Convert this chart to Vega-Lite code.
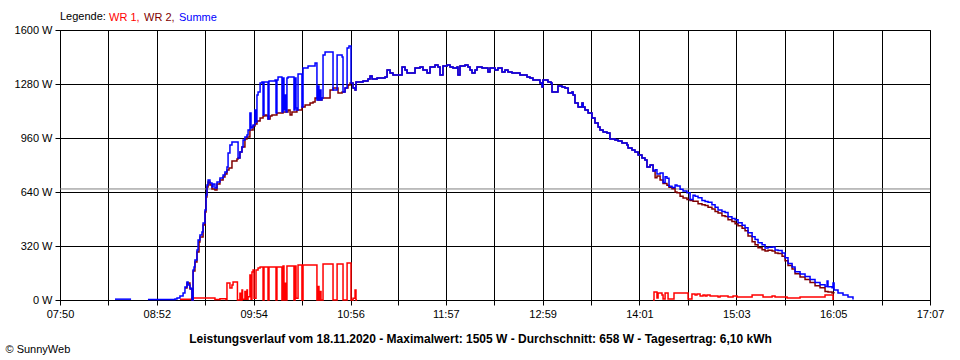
{
  "$schema": "https://vega.github.io/schema/vega-lite/v6.json",
  "autosize": {"type": "none"},
  "width": 870,
  "height": 270,
  "padding": {"left": 60, "top": 30, "right": 30, "bottom": 60},
  "background": "white",
  "config": {
    "view": {"stroke": "black", "strokeWidth": 1},
    "axis": {"domainColor": "black", "tickColor": "black", "gridColor": "black", "gridOpacity": 1, "gridWidth": 1, "labelFont": "Liberation Sans", "labelFontSize": 11, "labelColor": "black", "tickSize": 5, "domainWidth": 1, "tickWidth": 1, "titleFont": "Liberation Sans", "titleColor": "black"}
  },
  "datasets": {
    "d": [
      {"s":"Summe","t":505.2,"w":5,"g":1},{"s":"Summe","t":515.5,"w":5,"g":1},
      {"s":"Summe","t":526.3,"w":3,"g":2},{"s":"Summe","t":543.6,"w":6,"g":2},{"s":"Summe","t":544.9,"w":12,"g":2},{"s":"Summe","t":546.8,"w":24,"g":2},{"s":"Summe","t":548.8,"w":41,"g":2},{"s":"Summe","t":550.0,"w":77,"g":2},{"s":"Summe","t":551.3,"w":107,"g":2},{"s":"Summe","t":552.0,"w":89,"g":2},{"s":"Summe","t":553.2,"w":71,"g":2},{"s":"Summe","t":553.9,"w":65,"g":2},{"s":"Summe","t":554.5,"w":0,"g":2},{"s":"Summe","t":555.2,"w":178,"g":2},{"s":"Summe","t":555.8,"w":196,"g":2},{"s":"Summe","t":556.4,"w":237,"g":2},{"s":"Summe","t":557.7,"w":296,"g":2},{"s":"Summe","t":558.4,"w":356,"g":2},{"s":"Summe","t":559.6,"w":385,"g":2},{"s":"Summe","t":560.9,"w":403,"g":2},{"s":"Summe","t":561.6,"w":456,"g":2},{"s":"Summe","t":562.8,"w":533,"g":2},{"s":"Summe","t":563.5,"w":622,"g":2},{"s":"Summe","t":564.1,"w":681,"g":2},{"s":"Summe","t":564.8,"w":711,"g":2},{"s":"Summe","t":566.0,"w":693,"g":2},{"s":"Summe","t":567.3,"w":670,"g":2},{"s":"Summe","t":568.0,"w":687,"g":2},{"s":"Summe","t":569.2,"w":664,"g":2},{"s":"Summe","t":570.5,"w":699,"g":2},{"s":"Summe","t":572.4,"w":723,"g":2},{"s":"Summe","t":574.4,"w":741,"g":2},{"s":"Summe","t":575.6,"w":759,"g":2},{"s":"Summe","t":576.9,"w":788,"g":2},{"s":"Summe","t":577.6,"w":871,"g":2},{"s":"Summe","t":578.8,"w":919,"g":2},{"s":"Summe","t":580.1,"w":936,"g":2},{"s":"Summe","t":583.3,"w":936,"g":2},{"s":"Summe","t":584.0,"w":841,"g":2},{"s":"Summe","t":585.2,"w":877,"g":2},{"s":"Summe","t":586.5,"w":907,"g":2},{"s":"Summe","t":587.2,"w":948,"g":2},{"s":"Summe","t":588.4,"w":966,"g":2},{"s":"Summe","t":589.7,"w":978,"g":2},{"s":"Summe","t":590.4,"w":1007,"g":2},{"s":"Summe","t":591.6,"w":1108,"g":2},{"s":"Summe","t":592.3,"w":1019,"g":2},{"s":"Summe","t":592.9,"w":1025,"g":2},{"s":"Summe","t":593.6,"w":1037,"g":2},{"s":"Summe","t":594.8,"w":1126,"g":2},{"s":"Summe","t":595.5,"w":1055,"g":2},{"s":"Summe","t":596.1,"w":1215,"g":2},{"s":"Summe","t":596.8,"w":1233,"g":2},{"s":"Summe","t":598.1,"w":1286,"g":2},{"s":"Summe","t":599.3,"w":1292,"g":2},{"s":"Summe","t":600.0,"w":1096,"g":2},{"s":"Summe","t":600.6,"w":1292,"g":2},{"s":"Summe","t":603.2,"w":1073,"g":2},{"s":"Summe","t":603.8,"w":1298,"g":2},{"s":"Summe","t":607.7,"w":1304,"g":2},{"s":"Summe","t":608.3,"w":1108,"g":2},{"s":"Summe","t":608.9,"w":1304,"g":2},{"s":"Summe","t":609.6,"w":1321,"g":2},{"s":"Summe","t":612.1,"w":1114,"g":2},{"s":"Summe","t":612.8,"w":1316,"g":2},{"s":"Summe","t":613.4,"w":1126,"g":2},{"s":"Summe","t":614.1,"w":1215,"g":2},{"s":"Summe","t":614.7,"w":1114,"g":2},{"s":"Summe","t":615.3,"w":1316,"g":2},{"s":"Summe","t":616.0,"w":1321,"g":2},{"s":"Summe","t":619.8,"w":1126,"g":2},{"s":"Summe","t":620.5,"w":1316,"g":2},{"s":"Summe","t":621.1,"w":1138,"g":2},{"s":"Summe","t":621.7,"w":1126,"g":2},{"s":"Summe","t":622.4,"w":1339,"g":2},{"s":"Summe","t":624.9,"w":1144,"g":2},{"s":"Summe","t":625.6,"w":1375,"g":2},{"s":"Summe","t":628.8,"w":1386,"g":2},{"s":"Summe","t":633.3,"w":1404,"g":2},{"s":"Summe","t":634.5,"w":1185,"g":2},{"s":"Summe","t":635.2,"w":1268,"g":2},{"s":"Summe","t":635.8,"w":1185,"g":2},{"s":"Summe","t":636.5,"w":1244,"g":2},{"s":"Summe","t":637.1,"w":1185,"g":2},{"s":"Summe","t":637.7,"w":1197,"g":2},{"s":"Summe","t":638.4,"w":1452,"g":2},{"s":"Summe","t":639.7,"w":1470,"g":2},{"s":"Summe","t":644.8,"w":1244,"g":2},{"s":"Summe","t":647.4,"w":1452,"g":2},{"s":"Summe","t":650.6,"w":1440,"g":2},{"s":"Summe","t":651.2,"w":1233,"g":2},{"s":"Summe","t":652.5,"w":1256,"g":2},{"s":"Summe","t":653.8,"w":1493,"g":2},{"s":"Summe","t":655.0,"w":1505,"g":2},{"s":"Summe","t":656.3,"w":1286,"g":2},
      {"s":"Summe","t":657.6,"w":1256,"g":2},{"s":"Summe","t":658.9,"w":1244,"g":2},{"s":"Summe","t":659.5,"w":1292,"g":2},{"s":"Summe","t":664.0,"w":1298,"g":2},{"s":"Summe","t":667.2,"w":1310,"g":2},{"s":"Summe","t":668.5,"w":1327,"g":2},{"s":"Summe","t":669.8,"w":1310,"g":2},{"s":"Summe","t":673.0,"w":1316,"g":2},{"s":"Summe","t":678.1,"w":1321,"g":2},{"s":"Summe","t":679.4,"w":1363,"g":2},{"s":"Summe","t":681.3,"w":1345,"g":2},{"s":"Summe","t":683.2,"w":1333,"g":2},{"s":"Summe","t":689.0,"w":1381,"g":2},{"s":"Summe","t":690.9,"w":1363,"g":2},{"s":"Summe","t":692.2,"w":1345,"g":2},{"s":"Summe","t":697.3,"w":1375,"g":2},{"s":"Summe","t":700.5,"w":1381,"g":2},{"s":"Summe","t":702.4,"w":1363,"g":2},{"s":"Summe","t":705.0,"w":1345,"g":2},{"s":"Summe","t":706.9,"w":1381,"g":2},{"s":"Summe","t":710.1,"w":1392,"g":2},{"s":"Summe","t":712.0,"w":1381,"g":2},{"s":"Summe","t":713.3,"w":1333,"g":2},{"s":"Summe","t":715.2,"w":1386,"g":2},{"s":"Summe","t":717.8,"w":1392,"g":2},{"s":"Summe","t":719.7,"w":1381,"g":2},{"s":"Summe","t":721.6,"w":1375,"g":2},{"s":"Summe","t":724.2,"w":1381,"g":2},{"s":"Summe","t":724.8,"w":1333,"g":2},{"s":"Summe","t":726.1,"w":1386,"g":2},{"s":"Summe","t":729.3,"w":1392,"g":2},{"s":"Summe","t":731.2,"w":1381,"g":2},{"s":"Summe","t":732.5,"w":1363,"g":2},{"s":"Summe","t":733.8,"w":1345,"g":2},{"s":"Summe","t":735.7,"w":1363,"g":2},{"s":"Summe","t":737.0,"w":1381,"g":2},{"s":"Summe","t":740.2,"w":1375,"g":2},{"s":"Summe","t":744.0,"w":1351,"g":2},{"s":"Summe","t":745.3,"w":1375,"g":2},{"s":"Summe","t":748.5,"w":1363,"g":2},{"s":"Summe","t":750.4,"w":1375,"g":2},{"s":"Summe","t":753.0,"w":1351,"g":2},{"s":"Summe","t":754.9,"w":1363,"g":2},{"s":"Summe","t":756.8,"w":1351,"g":2},{"s":"Summe","t":759.4,"w":1345,"g":2},{"s":"Summe","t":764.5,"w":1333,"g":2},{"s":"Summe","t":769.0,"w":1321,"g":2},{"s":"Summe","t":770.9,"w":1316,"g":2},{"s":"Summe","t":772.8,"w":1304,"g":2},{"s":"Summe","t":777.3,"w":1286,"g":2},{"s":"Summe","t":778.6,"w":1262,"g":2},{"s":"Summe","t":779.2,"w":1304,"g":2},{"s":"Summe","t":782.4,"w":1292,"g":2},{"s":"Summe","t":784.4,"w":1286,"g":2},{"s":"Summe","t":785.0,"w":1233,"g":2},{"s":"Summe","t":788.8,"w":1268,"g":2},{"s":"Summe","t":791.4,"w":1262,"g":2},{"s":"Summe","t":793.3,"w":1256,"g":2},{"s":"Summe","t":795.3,"w":1227,"g":2},{"s":"Summe","t":797.8,"w":1233,"g":2},{"s":"Summe","t":798.5,"w":1215,"g":2},{"s":"Summe","t":799.7,"w":1167,"g":2},{"s":"Summe","t":801.7,"w":1144,"g":2},{"s":"Summe","t":804.2,"w":1167,"g":2},{"s":"Summe","t":804.9,"w":1144,"g":2},{"s":"Summe","t":806.1,"w":1126,"g":2},{"s":"Summe","t":808.1,"w":1108,"g":2},{"s":"Summe","t":810.6,"w":1079,"g":2},{"s":"Summe","t":812.5,"w":1049,"g":2},{"s":"Summe","t":814.5,"w":1025,"g":2},{"s":"Summe","t":815.7,"w":1007,"g":2},{"s":"Summe","t":817.7,"w":996,"g":2},{"s":"Summe","t":820.2,"w":990,"g":2},{"s":"Summe","t":822.1,"w":954,"g":2},{"s":"Summe","t":825.3,"w":948,"g":2},{"s":"Summe","t":827.3,"w":942,"g":2},{"s":"Summe","t":829.8,"w":930,"g":2},{"s":"Summe","t":833.0,"w":919,"g":2},{"s":"Summe","t":833.7,"w":901,"g":2},{"s":"Summe","t":836.2,"w":889,"g":2},{"s":"Summe","t":838.1,"w":877,"g":2},{"s":"Summe","t":840.1,"w":859,"g":2},{"s":"Summe","t":842.6,"w":841,"g":2},{"s":"Summe","t":844.5,"w":830,"g":2},{"s":"Summe","t":845.8,"w":788,"g":2},{"s":"Summe","t":847.8,"w":800,"g":2},
      {"s":"Summe","t":849.7,"w":765,"g":2},{"s":"Summe","t":851.0,"w":772,"g":2},{"s":"Summe","t":852.2,"w":747,"g":2},{"s":"Summe","t":854.2,"w":752,"g":2},{"s":"Summe","t":856.1,"w":696,"g":2},{"s":"Summe","t":857.4,"w":731,"g":2},{"s":"Summe","t":858.6,"w":721,"g":2},{"s":"Summe","t":859.9,"w":674,"g":2},{"s":"Summe","t":861.8,"w":666,"g":2},{"s":"Summe","t":863.8,"w":681,"g":2},{"s":"Summe","t":865.0,"w":676,"g":2},{"s":"Summe","t":867.0,"w":656,"g":2},{"s":"Summe","t":868.9,"w":646,"g":2},{"s":"Summe","t":871.4,"w":636,"g":2},{"s":"Summe","t":873.4,"w":596,"g":2},{"s":"Summe","t":875.3,"w":621,"g":2},{"s":"Summe","t":876.6,"w":615,"g":2},{"s":"Summe","t":878.5,"w":606,"g":2},{"s":"Summe","t":881.0,"w":589,"g":2},{"s":"Summe","t":883.0,"w":584,"g":2},{"s":"Summe","t":884.9,"w":580,"g":2},{"s":"Summe","t":887.4,"w":564,"g":2},{"s":"Summe","t":889.4,"w":549,"g":2},{"s":"Summe","t":891.3,"w":533,"g":2},{"s":"Summe","t":893.8,"w":524,"g":2},{"s":"Summe","t":895.8,"w":519,"g":2},{"s":"Summe","t":897.7,"w":493,"g":2},{"s":"Summe","t":900.2,"w":483,"g":2},{"s":"Summe","t":902.2,"w":476,"g":2},{"s":"Summe","t":904.1,"w":458,"g":2},{"s":"Summe","t":906.7,"w":443,"g":2},{"s":"Summe","t":908.6,"w":428,"g":2},{"s":"Summe","t":910.5,"w":398,"g":2},{"s":"Summe","t":913.1,"w":375,"g":2},{"s":"Summe","t":915.0,"w":358,"g":2},{"s":"Summe","t":916.9,"w":340,"g":2},{"s":"Summe","t":919.5,"w":328,"g":2},{"s":"Summe","t":921.4,"w":308,"g":2},{"s":"Summe","t":923.3,"w":313,"g":2},{"s":"Summe","t":925.9,"w":314,"g":2},{"s":"Summe","t":927.8,"w":296,"g":2},{"s":"Summe","t":929.7,"w":294,"g":2},{"s":"Summe","t":932.3,"w":278,"g":2},{"s":"Summe","t":934.2,"w":250,"g":2},{"s":"Summe","t":936.1,"w":217,"g":2},{"s":"Summe","t":938.7,"w":196,"g":2},{"s":"Summe","t":940.6,"w":167,"g":2},{"s":"Summe","t":943.8,"w":154,"g":2},{"s":"Summe","t":947.0,"w":140,"g":2},{"s":"Summe","t":950.2,"w":121,"g":2},{"s":"Summe","t":953.4,"w":103,"g":2},{"s":"Summe","t":956.6,"w":90,"g":2},{"s":"Summe","t":959.8,"w":80,"g":2},{"s":"Summe","t":961.1,"w":113,"g":2},{"s":"Summe","t":961.7,"w":78,"g":2},{"s":"Summe","t":964.3,"w":72,"g":2},{"s":"Summe","t":964.9,"w":101,"g":2},{"s":"Summe","t":965.6,"w":59,"g":2},{"s":"Summe","t":968.1,"w":41,"g":2},{"s":"Summe","t":971.3,"w":30,"g":2},{"s":"Summe","t":974.5,"w":18,"g":2},{"s":"Summe","t":977.7,"w":3,"g":2},

      {"s":"WR 2","t":550.0,"w":71,"g":1},{"s":"WR 2","t":551.3,"w":101,"g":1},{"s":"WR 2","t":553.2,"w":65,"g":1},{"s":"WR 2","t":554.5,"w":0,"g":1},{"s":"WR 2","t":555.2,"w":172,"g":1},{"s":"WR 2","t":556.4,"w":225,"g":1},{"s":"WR 2","t":557.7,"w":284,"g":1},{"s":"WR 2","t":559.0,"w":344,"g":1},{"s":"WR 2","t":559.6,"w":373,"g":1},{"s":"WR 2","t":561.6,"w":444,"g":1},{"s":"WR 2","t":562.8,"w":521,"g":1},{"s":"WR 2","t":563.5,"w":610,"g":1},{"s":"WR 2","t":564.1,"w":670,"g":1},{"s":"WR 2","t":564.8,"w":699,"g":1},{"s":"WR 2","t":566.0,"w":681,"g":1},{"s":"WR 2","t":567.3,"w":658,"g":1},{"s":"WR 2","t":569.2,"w":652,"g":1},{"s":"WR 2","t":570.5,"w":687,"g":1},{"s":"WR 2","t":572.4,"w":711,"g":1},{"s":"WR 2","t":574.4,"w":729,"g":1},{"s":"WR 2","t":575.6,"w":747,"g":1},{"s":"WR 2","t":576.9,"w":770,"g":1},{"s":"WR 2","t":578.2,"w":782,"g":1},{"s":"WR 2","t":580.1,"w":824,"g":1},{"s":"WR 2","t":583.3,"w":836,"g":1},{"s":"WR 2","t":584.0,"w":841,"g":1},{"s":"WR 2","t":585.2,"w":877,"g":1},{"s":"WR 2","t":586.5,"w":907,"g":1},{"s":"WR 2","t":588.4,"w":954,"g":1},{"s":"WR 2","t":589.7,"w":966,"g":1},{"s":"WR 2","t":591.6,"w":1007,"g":1},{"s":"WR 2","t":593.6,"w":1031,"g":1},{"s":"WR 2","t":594.8,"w":1043,"g":1},{"s":"WR 2","t":596.1,"w":1061,"g":1},{"s":"WR 2","t":598.1,"w":1079,"g":1},{"s":"WR 2","t":600.0,"w":1090,"g":1},{"s":"WR 2","t":601.3,"w":1096,"g":1},{"s":"WR 2","t":602.5,"w":1090,"g":1},{"s":"WR 2","t":603.2,"w":1073,"g":1},{"s":"WR 2","t":604.5,"w":1090,"g":1},{"s":"WR 2","t":605.7,"w":1096,"g":1},{"s":"WR 2","t":608.9,"w":1108,"g":1},{"s":"WR 2","t":612.8,"w":1114,"g":1},{"s":"WR 2","t":616.0,"w":1126,"g":1},{"s":"WR 2","t":617.3,"w":1096,"g":1},{"s":"WR 2","t":618.5,"w":1114,"g":1},{"s":"WR 2","t":621.7,"w":1126,"g":1},{"s":"WR 2","t":624.9,"w":1144,"g":1},{"s":"WR 2","t":626.9,"w":1156,"g":1},{"s":"WR 2","t":630.1,"w":1167,"g":1},{"s":"WR 2","t":632.0,"w":1173,"g":1},{"s":"WR 2","t":633.3,"w":1197,"g":1},{"s":"WR 2","t":635.2,"w":1185,"g":1},{"s":"WR 2","t":637.7,"w":1197,"g":1},{"s":"WR 2","t":641.0,"w":1197,"g":1},{"s":"WR 2","t":642.9,"w":1244,"g":1},{"s":"WR 2","t":644.8,"w":1256,"g":1},{"s":"WR 2","t":648.0,"w":1227,"g":1},{"s":"WR 2","t":650.6,"w":1233,"g":1},{"s":"WR 2","t":652.5,"w":1256,"g":1},{"s":"WR 2","t":654.4,"w":1274,"g":1},{"s":"WR 2","t":655.7,"w":1286,"g":1},{"s":"WR 2","t":656.3,"w":1286,"g":1},
      {"s":"WR 2","t":657.6,"w":1256,"g":1},{"s":"WR 2","t":658.9,"w":1244,"g":1},{"s":"WR 2","t":659.5,"w":1292,"g":1},{"s":"WR 2","t":664.0,"w":1298,"g":1},{"s":"WR 2","t":667.2,"w":1310,"g":1},{"s":"WR 2","t":668.5,"w":1327,"g":1},{"s":"WR 2","t":669.8,"w":1310,"g":1},{"s":"WR 2","t":673.0,"w":1316,"g":1},{"s":"WR 2","t":678.1,"w":1321,"g":1},{"s":"WR 2","t":679.4,"w":1363,"g":1},{"s":"WR 2","t":681.3,"w":1345,"g":1},{"s":"WR 2","t":683.2,"w":1333,"g":1},{"s":"WR 2","t":689.0,"w":1381,"g":1},{"s":"WR 2","t":690.9,"w":1363,"g":1},{"s":"WR 2","t":692.2,"w":1345,"g":1},{"s":"WR 2","t":697.3,"w":1375,"g":1},{"s":"WR 2","t":700.5,"w":1381,"g":1},{"s":"WR 2","t":702.4,"w":1363,"g":1},{"s":"WR 2","t":705.0,"w":1345,"g":1},{"s":"WR 2","t":706.9,"w":1381,"g":1},{"s":"WR 2","t":710.1,"w":1392,"g":1},{"s":"WR 2","t":712.0,"w":1381,"g":1},{"s":"WR 2","t":713.3,"w":1333,"g":1},{"s":"WR 2","t":715.2,"w":1386,"g":1},{"s":"WR 2","t":717.8,"w":1392,"g":1},{"s":"WR 2","t":719.7,"w":1381,"g":1},{"s":"WR 2","t":721.6,"w":1375,"g":1},{"s":"WR 2","t":724.2,"w":1381,"g":1},{"s":"WR 2","t":724.8,"w":1333,"g":1},{"s":"WR 2","t":726.1,"w":1386,"g":1},{"s":"WR 2","t":729.3,"w":1392,"g":1},{"s":"WR 2","t":731.2,"w":1381,"g":1},{"s":"WR 2","t":732.5,"w":1363,"g":1},{"s":"WR 2","t":733.8,"w":1345,"g":1},{"s":"WR 2","t":735.7,"w":1363,"g":1},{"s":"WR 2","t":737.0,"w":1381,"g":1},{"s":"WR 2","t":740.2,"w":1375,"g":1},{"s":"WR 2","t":744.0,"w":1351,"g":1},{"s":"WR 2","t":745.3,"w":1375,"g":1},{"s":"WR 2","t":748.5,"w":1363,"g":1},{"s":"WR 2","t":750.4,"w":1375,"g":1},{"s":"WR 2","t":753.0,"w":1351,"g":1},{"s":"WR 2","t":754.9,"w":1363,"g":1},{"s":"WR 2","t":756.8,"w":1351,"g":1},{"s":"WR 2","t":759.4,"w":1345,"g":1},{"s":"WR 2","t":764.5,"w":1333,"g":1},{"s":"WR 2","t":769.0,"w":1321,"g":1},{"s":"WR 2","t":770.9,"w":1316,"g":1},{"s":"WR 2","t":772.8,"w":1304,"g":1},{"s":"WR 2","t":777.3,"w":1286,"g":1},{"s":"WR 2","t":778.6,"w":1262,"g":1},{"s":"WR 2","t":779.2,"w":1304,"g":1},{"s":"WR 2","t":782.4,"w":1292,"g":1},{"s":"WR 2","t":784.4,"w":1286,"g":1},{"s":"WR 2","t":785.0,"w":1233,"g":1},{"s":"WR 2","t":788.8,"w":1268,"g":1},{"s":"WR 2","t":791.4,"w":1262,"g":1},{"s":"WR 2","t":793.3,"w":1256,"g":1},{"s":"WR 2","t":795.3,"w":1227,"g":1},{"s":"WR 2","t":797.8,"w":1233,"g":1},{"s":"WR 2","t":798.5,"w":1215,"g":1},{"s":"WR 2","t":799.7,"w":1167,"g":1},{"s":"WR 2","t":801.7,"w":1144,"g":1},{"s":"WR 2","t":804.2,"w":1167,"g":1},{"s":"WR 2","t":804.9,"w":1144,"g":1},{"s":"WR 2","t":806.1,"w":1126,"g":1},{"s":"WR 2","t":808.1,"w":1108,"g":1},{"s":"WR 2","t":810.6,"w":1079,"g":1},{"s":"WR 2","t":812.5,"w":1049,"g":1},{"s":"WR 2","t":814.5,"w":1025,"g":1},{"s":"WR 2","t":815.7,"w":1007,"g":1},{"s":"WR 2","t":817.7,"w":996,"g":1},{"s":"WR 2","t":820.2,"w":990,"g":1},{"s":"WR 2","t":822.1,"w":954,"g":1},{"s":"WR 2","t":825.3,"w":948,"g":1},{"s":"WR 2","t":827.3,"w":942,"g":1},{"s":"WR 2","t":829.8,"w":930,"g":1},{"s":"WR 2","t":833.0,"w":919,"g":1},{"s":"WR 2","t":833.7,"w":901,"g":1},{"s":"WR 2","t":836.2,"w":889,"g":1},{"s":"WR 2","t":838.1,"w":877,"g":1},{"s":"WR 2","t":840.1,"w":859,"g":1},{"s":"WR 2","t":842.6,"w":841,"g":1},{"s":"WR 2","t":844.5,"w":830,"g":1},{"s":"WR 2","t":845.8,"w":788,"g":1},{"s":"WR 2","t":847.8,"w":800,"g":1},
      {"s":"WR 2","t":849.7,"w":765,"g":1},{"s":"WR 2","t":851.0,"w":725,"g":1},{"s":"WR 2","t":852.2,"w":735,"g":1},{"s":"WR 2","t":854.2,"w":711,"g":1},{"s":"WR 2","t":856.1,"w":690,"g":1},{"s":"WR 2","t":858.6,"w":680,"g":1},{"s":"WR 2","t":859.9,"w":668,"g":1},{"s":"WR 2","t":861.8,"w":660,"g":1},{"s":"WR 2","t":863.8,"w":640,"g":1},{"s":"WR 2","t":865.0,"w":635,"g":1},{"s":"WR 2","t":867.0,"w":615,"g":1},{"s":"WR 2","t":868.9,"w":605,"g":1},{"s":"WR 2","t":871.4,"w":595,"g":1},{"s":"WR 2","t":873.4,"w":590,"g":1},{"s":"WR 2","t":875.3,"w":585,"g":1},{"s":"WR 2","t":878.5,"w":570,"g":1},{"s":"WR 2","t":881.0,"w":565,"g":1},{"s":"WR 2","t":883.0,"w":560,"g":1},{"s":"WR 2","t":884.9,"w":550,"g":1},{"s":"WR 2","t":887.4,"w":540,"g":1},{"s":"WR 2","t":889.4,"w":525,"g":1},{"s":"WR 2","t":891.3,"w":515,"g":1},{"s":"WR 2","t":893.8,"w":500,"g":1},{"s":"WR 2","t":895.8,"w":495,"g":1},{"s":"WR 2","t":897.7,"w":475,"g":1},{"s":"WR 2","t":900.2,"w":465,"g":1},{"s":"WR 2","t":902.2,"w":452,"g":1},{"s":"WR 2","t":904.1,"w":440,"g":1},{"s":"WR 2","t":906.7,"w":425,"g":1},{"s":"WR 2","t":908.6,"w":410,"g":1},{"s":"WR 2","t":910.5,"w":380,"g":1},{"s":"WR 2","t":913.1,"w":345,"g":1},{"s":"WR 2","t":915.0,"w":328,"g":1},{"s":"WR 2","t":916.9,"w":310,"g":1},{"s":"WR 2","t":919.5,"w":298,"g":1},{"s":"WR 2","t":921.4,"w":290,"g":1},{"s":"WR 2","t":923.3,"w":295,"g":1},{"s":"WR 2","t":925.9,"w":290,"g":1},{"s":"WR 2","t":927.8,"w":278,"g":1},{"s":"WR 2","t":929.7,"w":276,"g":1},{"s":"WR 2","t":932.3,"w":260,"g":1},{"s":"WR 2","t":934.2,"w":232,"g":1},{"s":"WR 2","t":936.1,"w":205,"g":1},{"s":"WR 2","t":938.7,"w":184,"g":1},{"s":"WR 2","t":940.6,"w":155,"g":1},{"s":"WR 2","t":943.8,"w":136,"g":1},{"s":"WR 2","t":947.0,"w":122,"g":1},{"s":"WR 2","t":950.2,"w":103,"g":1},{"s":"WR 2","t":953.4,"w":85,"g":1},{"s":"WR 2","t":956.6,"w":72,"g":1},{"s":"WR 2","t":959.8,"w":50,"g":1},{"s":"WR 2","t":961.7,"w":48,"g":1},{"s":"WR 2","t":964.3,"w":42,"g":1},{"s":"WR 2","t":965.6,"w":40,"g":1},

      {"s":"WR 1","t":546.8,"w":5,"g":1},{"s":"WR 1","t":554.5,"w":12,"g":1},{"s":"WR 1","t":569.2,"w":3,"g":1},{"s":"WR 1","t":572.4,"w":8,"g":1},{"s":"WR 1","t":576.3,"w":3,"g":1},{"s":"WR 1","t":576.9,"w":101,"g":1},{"s":"WR 1","t":578.8,"w":71,"g":1},{"s":"WR 1","t":580.1,"w":89,"g":1},{"s":"WR 1","t":580.8,"w":107,"g":1},{"s":"WR 1","t":583.6,"w":0,"g":1},{"s":"WR 1","t":585.2,"w":40,"g":1},{"s":"WR 1","t":585.6,"w":0,"g":1},{"s":"WR 1","t":586.5,"w":59,"g":1},{"s":"WR 1","t":586.9,"w":5,"g":1},{"s":"WR 1","t":588.4,"w":50,"g":1},{"s":"WR 1","t":588.8,"w":5,"g":1},{"s":"WR 1","t":589.7,"w":60,"g":1},{"s":"WR 1","t":590.0,"w":5,"g":1},{"s":"WR 1","t":590.4,"w":20,"g":1},{"s":"WR 1","t":591.6,"w":148,"g":1},{"s":"WR 1","t":592.3,"w":5,"g":1},{"s":"WR 1","t":592.9,"w":166,"g":1},{"s":"WR 1","t":593.6,"w":178,"g":1},{"s":"WR 1","t":594.2,"w":10,"g":1},{"s":"WR 1","t":595.5,"w":178,"g":1},{"s":"WR 1","t":596.8,"w":190,"g":1},{"s":"WR 1","t":598.1,"w":196,"g":1},{"s":"WR 1","t":600.0,"w":0,"g":1},{"s":"WR 1","t":600.6,"w":196,"g":1},{"s":"WR 1","t":603.2,"w":0,"g":1},{"s":"WR 1","t":603.8,"w":196,"g":1},{"s":"WR 1","t":608.3,"w":0,"g":1},{"s":"WR 1","t":608.9,"w":196,"g":1},{"s":"WR 1","t":612.1,"w":0,"g":1},{"s":"WR 1","t":612.8,"w":201,"g":1},{"s":"WR 1","t":613.4,"w":0,"g":1},{"s":"WR 1","t":614.1,"w":100,"g":1},{"s":"WR 1","t":614.7,"w":0,"g":1},{"s":"WR 1","t":615.3,"w":201,"g":1},{"s":"WR 1","t":619.8,"w":0,"g":1},{"s":"WR 1","t":620.5,"w":201,"g":1},{"s":"WR 1","t":621.1,"w":10,"g":1},{"s":"WR 1","t":622.4,"w":207,"g":1},{"s":"WR 1","t":624.9,"w":0,"g":1},{"s":"WR 1","t":625.6,"w":207,"g":1},{"s":"WR 1","t":634.5,"w":0,"g":1},{"s":"WR 1","t":635.2,"w":80,"g":1},{"s":"WR 1","t":635.8,"w":0,"g":1},{"s":"WR 1","t":636.5,"w":50,"g":1},{"s":"WR 1","t":637.1,"w":0,"g":1},{"s":"WR 1","t":638.4,"w":213,"g":1},{"s":"WR 1","t":644.8,"w":0,"g":1},{"s":"WR 1","t":647.4,"w":213,"g":1},{"s":"WR 1","t":651.2,"w":0,"g":1},{"s":"WR 1","t":653.8,"w":219,"g":1},{"s":"WR 1","t":656.3,"w":0,"g":1},{"s":"WR 1","t":657.6,"w":10,"g":1},{"s":"WR 1","t":658.9,"w":60,"g":1},{"s":"WR 1","t":659.5,"w":0,"g":1},{"s":"WR 1","t":660.2,"w":0,"g":1},
      {"s":"WR 1","t":849.7,"w":0,"g":2},{"s":"WR 1","t":850.3,"w":47,"g":2},{"s":"WR 1","t":852.2,"w":12,"g":2},{"s":"WR 1","t":852.9,"w":41,"g":2},{"s":"WR 1","t":855.4,"w":30,"g":2},{"s":"WR 1","t":856.1,"w":6,"g":2},{"s":"WR 1","t":857.4,"w":41,"g":2},{"s":"WR 1","t":859.3,"w":6,"g":2},{"s":"WR 1","t":863.1,"w":41,"g":2},{"s":"WR 1","t":872.1,"w":6,"g":2},{"s":"WR 1","t":874.6,"w":36,"g":2},{"s":"WR 1","t":876.6,"w":30,"g":2},{"s":"WR 1","t":877.8,"w":36,"g":2},{"s":"WR 1","t":879.8,"w":24,"g":2},{"s":"WR 1","t":881.7,"w":30,"g":2},{"s":"WR 1","t":883.0,"w":24,"g":2},{"s":"WR 1","t":884.2,"w":30,"g":2},{"s":"WR 1","t":886.2,"w":24,"g":2},{"s":"WR 1","t":891.3,"w":18,"g":2},{"s":"WR 1","t":892.6,"w":24,"g":2},{"s":"WR 1","t":897.7,"w":18,"g":2},{"s":"WR 1","t":900.9,"w":24,"g":2},{"s":"WR 1","t":903.5,"w":18,"g":2},{"s":"WR 1","t":913.1,"w":30,"g":2},{"s":"WR 1","t":920.1,"w":18,"g":2},{"s":"WR 1","t":925.9,"w":24,"g":2},{"s":"WR 1","t":927.8,"w":18,"g":2},{"s":"WR 1","t":935.5,"w":12,"g":2},{"s":"WR 1","t":943.8,"w":18,"g":2},{"s":"WR 1","t":959.8,"w":30,"g":2},{"s":"WR 1","t":964.9,"w":0,"g":2}
    ]
  },
  "layer": [
    {
      "data": {"values": [{"avg": 658}]},
      "mark": {"type": "rule", "color": "#808080", "strokeWidth": 1},
      "encoding": {
        "y": {"field": "avg", "type": "quantitative", "scale": {"domain": [0, 1600], "nice": false, "zero": true}}
      }
    },
    {
      "data": {"name": "d"},
      "transform": [{"filter": "datum.s == 'WR 1'"}],
      "mark": {"type": "line", "interpolate": "step-after", "strokeWidth": 1.5},
      "encoding": {
        "x": {"field": "t", "type": "quantitative"},
        "y": {"field": "w", "type": "quantitative"},
        "color": {"field": "s", "type": "nominal"},
        "detail": {"field": "g", "type": "nominal"}
      }
    },
    {
      "data": {"name": "d"},
      "transform": [{"filter": "datum.s == 'WR 2'"}],
      "mark": {"type": "line", "interpolate": "step-after", "strokeWidth": 1.5},
      "encoding": {
        "x": {"field": "t", "type": "quantitative"},
        "y": {"field": "w", "type": "quantitative"},
        "color": {"field": "s", "type": "nominal"},
        "detail": {"field": "g", "type": "nominal"}
      }
    },
    {
      "data": {"name": "d"},
      "transform": [{"filter": "datum.s == 'Summe'"}],
      "mark": {"type": "line", "interpolate": "step-after", "strokeWidth": 1.5},
      "encoding": {
        "x": {
          "field": "t", "type": "quantitative",
          "scale": {"domain": [470, 1027], "nice": false, "zero": false},
          "axis": {
            "values": [470, 501, 532, 563, 594, 625, 656, 686.5, 717, 748, 779, 810, 841, 872, 903, 934, 965, 996, 1027],
            "labelExpr": "indexof([470,532,594,656,717,779,841,903,965,1027], datum.value) < 0 ? '' : (floor(datum.value/60) < 10 ? '0' : '') + floor(datum.value/60) + ':' + (datum.value % 60 < 10 ? '0' : '') + (datum.value % 60)",
            "labelPadding": 3,
            "labelOverlap": false,
            "labelFlush": false,
            "grid": true,
            "title": "Leistungsverlauf vom 18.11.2020 - Maximalwert: 1505 W - Durchschnitt: 658 W - Tagesertrag: 6,10 kWh",
            "titleFontWeight": "bold",
            "titleFontSize": 12,
            "titleX": 420,
            "titleY": 42,
            "titleAlign": "center",
            "titleBaseline": "alphabetic"
          }
        },
        "y": {
          "field": "w", "type": "quantitative",
          "scale": {"domain": [0, 1600], "nice": false},
          "axis": {
            "values": [0, 320, 640, 960, 1280, 1600],
            "labelExpr": "datum.value + ' W'",
            "labelPadding": 3,
            "grid": true,
            "title": "© SunnyWeb",
            "titleAngle": 0,
            "titleFontWeight": "normal",
            "titleFontSize": 11,
            "titleX": -55,
            "titleY": 322,
            "titleAlign": "left",
            "titleBaseline": "alphabetic"
          }
        },
        "color": {
          "field": "s", "type": "nominal",
          "scale": {"domain": ["WR 1", "WR 2", "Summe"], "range": ["#ff0000", "#800000", "#0000ff"]},
          "legend": {
            "orient": "none", "legendX": 0, "legendY": -18,
            "direction": "horizontal",
            "title": "Legende:", "titleOrient": "left", "titleFont": "Liberation Sans", "titleFontSize": 11, "titleFontWeight": "normal", "titleColor": "black", "titlePadding": 4,
            "labelFont": "Liberation Sans", "labelFontSize": 11,
            "labelColor": {"expr": "datum.value == 'WR 1' ? '#ff0000' : datum.value == 'WR 2' ? '#800000' : '#0000ff'"},
            "labelExpr": "datum.value == 'Summe' ? datum.label : datum.label + ','",
            "symbolSize": 0, "symbolOpacity": 0, "symbolStrokeWidth": 0, "labelOffset": -12, "columnPadding": 4
          }
        },
        "detail": {"field": "g", "type": "nominal"}
      }
    }
  ]
}
